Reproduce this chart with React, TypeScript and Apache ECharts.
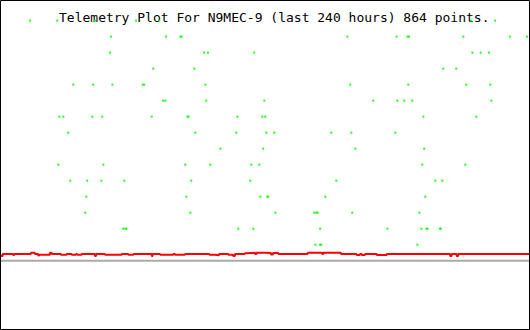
import React, { useEffect, useRef } from "react";
import * as echarts from "echarts";

const titleText = "Telemetry Plot For N9MEC-9 (last 240 hours) 864 points.";

// X axis: hours (0..240). Y axis: telemetry level units.
const xMin = 0;
const xMax = 240;
const yMin = -4.33;
const yMax = 16.29;

// Baseline (gray) value
const baselineValue = 0;

// Red channel: change points (hour) and level held until next change point
const redHours = [
  0, 1.2, 6.0, 6.5, 14.0, 15.8, 17.3, 17.8, 22.6, 23.4, 27.5, 30.2, 32.5, 34.4, 34.9, 37.0,
  43.0, 43.5, 47.5, 55.1, 58.1, 60.4, 68.7, 69.1, 72.5, 78.5, 79.2, 83.8, 94.8, 97.4, 99.2,
  103.4, 105.6, 106.4, 110.9, 111.7, 115.5, 116.2, 120.0, 122.7, 123.6, 126.0, 139.3, 145.9,
  146.4, 154.4, 161.5, 163.0, 163.8, 165.3, 170.6, 175.1, 203.8, 204.5, 206.8, 207.5, 240,
];
const redValues = [
  0.29, 0.42, 0.36, 0.42, 0.5, 0.42, 0.33, 0.375, 0.5, 0.42, 0.375, 0.42, 0.375, 0.42, 0.375, 0.42,
  0.29, 0.42, 0.375, 0.42, 0.375, 0.42, 0.29, 0.42, 0.375, 0.42, 0.375, 0.42, 0.375, 0.34, 0.42,
  0.375, 0.29, 0.42, 0.47, 0.5, 0.42, 0.5, 0.48, 0.38, 0.48, 0.42, 0.5, 0.42,
  0.5, 0.42, 0.36, 0.42, 0.36, 0.42, 0.36, 0.42, 0.29, 0.42, 0.29, 0.42, 0.42,
];

// Green channel: hours at which each discrete level (1..15) was reported
const greenLevel1 = [142.8, 144.9, 145.5, 189.0];
const greenLevel2 = [55.8, 56.8, 57.3, 107.9, 114.7, 145.0, 175.4, 190.8, 193.1, 193.6, 199.2, 199.6];
const greenLevel3 = [38.6, 86.2, 124.7, 142.3, 143.3, 143.8, 159.5, 189.9];
const greenLevel4 = [39.1, 84.4, 117.9, 121.0, 121.4, 147.3, 192.6];
const greenLevel5 = [31.8, 39.5, 45.9, 56.3, 86.6, 113.3, 152.3, 197.1, 200.3];
const greenLevel6 = [26.4, 46.8, 83.9, 95.2, 113.8, 117.4, 191.2, 210.7];
const greenLevel7 = [99.8, 119.2, 160.9, 192.1];
const greenLevel8 = [30.9, 88.4, 107.0, 120.6, 124.2, 150.0, 159.1, 179.0];
const greenLevel9 = [26.9, 28.7, 41.8, 46.3, 68.7, 84.9, 85.4, 107.5, 118.8, 120.1, 191.7, 215.7];
const greenLevel10 = [73.9, 74.9, 93.4, 119.7, 169.0, 179.9, 183.1, 186.7, 222.5];
const greenLevel11 = [33.2, 42.2, 50.9, 64.6, 65.3, 93.0, 158.6, 184.9, 211.1, 222.0];
const greenLevel12 = [69.4, 88.0, 200.7, 206.6];
const greenLevel13 = [49.8, 92.4, 94.2, 115.1, 213.9, 217.7, 221.4];
const greenLevel14 = [50.3, 75.2, 81.7, 82.2, 157.3, 179.6, 184.5, 185.2, 209.8, 230.9, 238.6];
const greenLevel15 = [13.6, 25.9, 43.0, 61.6, 72.1, 213.3, 224.2];

const greenRows = [
  greenLevel1, greenLevel2, greenLevel3, greenLevel4, greenLevel5,
  greenLevel6, greenLevel7, greenLevel8, greenLevel9, greenLevel10,
  greenLevel11, greenLevel12, greenLevel13, greenLevel14, greenLevel15,
];

export default function App() {
  const ref = useRef<HTMLDivElement>(null);

  useEffect(() => {
    document.body.style.margin = "0";
    if (!ref.current) return;
    const chart = echarts.init(ref.current, null, { renderer: "svg" });

    const redData = redHours.map((h, i) => [h, redValues[i]]);
    const greenData: number[][] = [];
    greenRows.forEach((row, idx) => {
      row.forEach((h) => greenData.push([h, idx + 1]));
    });

    chart.setOption({
      animation: false,
      backgroundColor: "#ffffff",
      grid: { left: 0, right: 0, top: 0, bottom: 0 },
      xAxis: { type: "value", min: xMin, max: xMax, show: false },
      yAxis: { type: "value", min: yMin, max: yMax, show: false },
      series: [
        {
          type: "line",
          data: [[xMin, baselineValue], [xMax, baselineValue]],
          symbol: "none",
          lineStyle: { color: "#aaaaaa", width: 2 },
          silent: true,
          z: 1,
        },
        {
          type: "line",
          step: "end",
          data: redData,
          symbol: "none",
          lineStyle: { color: "#ff0000", width: 2 },
          silent: true,
          z: 2,
        },
        {
          type: "scatter",
          data: greenData,
          symbol: "rect",
          symbolSize: [2, 2.2],
          itemStyle: { color: "#00ff00" },
          silent: true,
          z: 5,
        },
      ],
      graphic: [
        {
          type: "text",
          x: 59,
          y: 17,
          z: 3,
          style: {
            text: titleText,
            font: '13px "DejaVu Sans Mono"',
            fill: "#000000",
            verticalAlign: "middle",
          },
        },
        {
          type: "rect",
          shape: { x: 0.5, y: 0.5, width: 529, height: 329 },
          style: { fill: "none", stroke: "#000000", lineWidth: 1 },
          z: 10,
        },
      ],
    });

    return () => chart.dispose();
  }, []);

  return (
    <div
      ref={ref}
      style={{ position: "fixed", left: 0, top: 0, width: 530, height: 330 }}
    />
  );
}
